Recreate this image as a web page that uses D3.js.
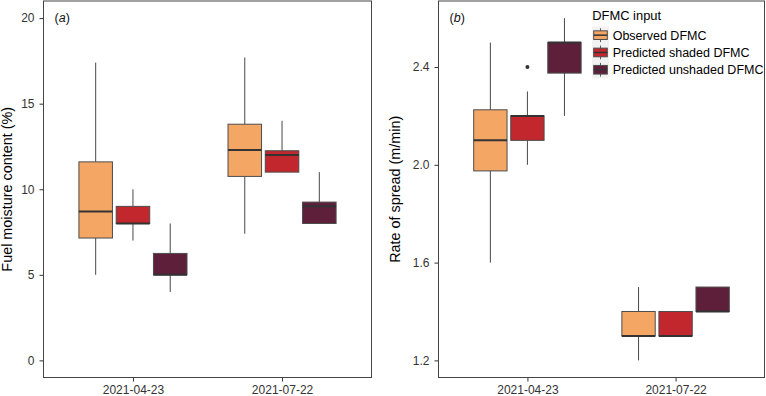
<!DOCTYPE html>
<html><head><meta charset="utf-8">
<script src="https://cdn.jsdelivr.net/npm/d3@7"></script>
<style>
html,body{margin:0;padding:0;background:#fff;}
svg{display:block;font-family:"Liberation Sans",Arial,Helvetica,sans-serif;}
</style></head>
<body><svg id="chart" width="766" height="396"></svg>
<script>
// ---------- data ----------
const dates = ["2021-04-23", "2021-07-22"];
const groups = ["Observed DFMC", "Predicted shaded DFMC", "Predicted unshaded DFMC"];
// box stats: [min, q1, median, q3, max], one entry per date
const fmcObserved  = [[5.0, 7.15, 8.7, 11.6, 17.4], [7.4, 10.75, 12.3, 13.8, 17.7]];
const fmcShaded    = [[7.0, 8.0, 8.0, 9.0, 10.0],   [11.0, 11.0, 12.0, 12.25, 14.0]];
const fmcUnshaded  = [[4.0, 5.0, 5.0, 6.25, 8.0],   [8.0, 8.0, 9.0, 9.25, 11.0]];
const rosObserved  = [[1.6, 1.975, 2.1, 2.225, 2.5], [1.2, 1.3, 1.3, 1.4, 1.5]];
const rosShaded    = [[2.0, 2.1, 2.2, 2.2, 2.3],     [1.3, 1.3, 1.3, 1.4, 1.4]];
const rosUnshaded  = [[2.2, 2.375, 2.5, 2.5, 2.6],   [1.4, 1.4, 1.4, 1.5, 1.5]];
const rosOutliers  = [{date: 0, group: 1, value: 2.4}];
const fmcTicks = [0, 5, 10, 15, 20];
const rosTicks = [1.2, 1.6, 2.0, 2.4];

const fillColors = ["#F4A664", "#C1272D", "#5E1F3A"];

const svg = d3.select("#chart");

function panel(opts) {
  const {x0, x1, y0, y1, yDomain, ticks, fmt, stats, outliers, title, label, titleX} = opts;
  const g = svg.append("g");
  const xs = d3.scaleLinear().domain([0.4, 2.6]).range([x0, x1]);
  const ys = d3.scaleLinear().domain(yDomain).range([y1, y0]);

  // y axis
  const ya = g.append("g").attr("transform", `translate(${x0},0)`)
    .call(d3.axisLeft(ys).tickValues(ticks).tickFormat(fmt).tickSize(4).tickPadding(5));
  ya.select(".domain").remove();
  ya.selectAll("line").attr("stroke", "#333");
  ya.selectAll("text").attr("fill", "#333").style("font-size", "12px");

  // x axis
  const xa = g.append("g").attr("transform", `translate(0,${y1})`)
    .call(d3.axisBottom(xs).tickValues([1, 2]).tickFormat((d) => dates[d - 1]).tickSize(4).tickPadding(3.5));
  xa.select(".domain").remove();
  xa.selectAll("line").attr("stroke", "#333");
  xa.selectAll("text").attr("fill", "#333").style("font-size", "12px");

  // boxes
  const half = 0.1125;
  stats.forEach((series, gi) => {
    series.forEach((s, di) => {
      const c = di + 1 + (gi - 1) * 0.25;
      const xl = xs(c - half), xr = xs(c + half), xc = xs(c);
      const [mn, q1, md, q3, mx] = s;
      if (mx > q3) g.append("line").attr("x1", xc).attr("x2", xc).attr("y1", ys(mx)).attr("y2", ys(q3))
        .attr("stroke", "#333").attr("stroke-width", 0.9);
      if (mn < q1) g.append("line").attr("x1", xc).attr("x2", xc).attr("y1", ys(q1)).attr("y2", ys(mn))
        .attr("stroke", "#333").attr("stroke-width", 0.9);
      g.append("rect").attr("x", xl).attr("y", ys(q3)).attr("width", xr - xl).attr("height", ys(q1) - ys(q3))
        .attr("fill", fillColors[gi]).attr("stroke", "#4d4d4d").attr("stroke-width", 1);
      g.append("line").attr("x1", xl).attr("x2", xr).attr("y1", ys(md)).attr("y2", ys(md))
        .attr("stroke", "#333").attr("stroke-width", 2);
    });
  });
  (outliers || []).forEach((o) => {
    const c = o.date + 1 + (o.group - 1) * 0.25;
    g.append("circle").attr("cx", xs(c)).attr("cy", ys(o.value)).attr("r", 2).attr("fill", "#333");
  });

  // border
  g.append("rect").attr("x", x0).attr("y", y0).attr("width", x1 - x0).attr("height", y1 - y0)
    .attr("fill", "none").attr("stroke", "#444").attr("stroke-width", 1);

  // y title
  g.append("text").attr("transform", `translate(${titleX},${(y0 + y1) / 2}) rotate(-90)`)
    .attr("text-anchor", "middle").style("font-size", "14.4px").attr("fill", "#000").text(title);

  // panel label
  const t = g.append("text").attr("x", x0 + 11).attr("y", 22).style("font-size", "12.5px").attr("fill", "#111");
  t.append("tspan").text("(");
  t.append("tspan").style("font-style", "italic").text(label);
  t.append("tspan").text(")");
}

panel({x0: 43.5, x1: 371.5, y0: 1, y1: 377.5, yDomain: [-1, 21], ticks: fmcTicks, fmt: d3.format("d"),
  stats: [fmcObserved, fmcShaded, fmcUnshaded], title: "Fuel moisture content (%)", label: "a", titleX: 11.7});
panel({x0: 438.5, x1: 764.5, y0: 1, y1: 377.5, yDomain: [1.13, 2.67], ticks: rosTicks, fmt: d3.format(".1f"),
  stats: [rosObserved, rosShaded, rosUnshaded], outliers: rosOutliers, title: "Rate of spread (m/min)", label: "b", titleX: 400});

// legend
const lg = svg.append("g");
lg.append("text").attr("x", 592.3).attr("y", 20.3).style("font-size", "12.9px").attr("fill", "#000").text("DFMC input");
const keyW = 17, keyH = 17.3, keyX = 592, keyY = 26.5;
groups.forEach((name, i) => {
  const ky = keyY + i * keyH;
  lg.append("rect").attr("x", keyX).attr("y", ky).attr("width", keyW).attr("height", keyH).attr("fill", "#f2f2f2");
  const cx = keyX + keyW / 2;
  lg.append("line").attr("x1", cx).attr("x2", cx).attr("y1", ky + keyH * 0.1).attr("y2", ky + keyH * 0.9)
    .attr("stroke", "#333").attr("stroke-width", 0.8);
  lg.append("rect").attr("x", keyX + keyW * 0.1).attr("y", ky + keyH * 0.25).attr("width", keyW * 0.8).attr("height", keyH * 0.5)
    .attr("fill", fillColors[i]).attr("stroke", "#4d4d4d").attr("stroke-width", 1);
  lg.append("line").attr("x1", keyX + keyW * 0.1).attr("x2", keyX + keyW * 0.9).attr("y1", ky + keyH / 2).attr("y2", ky + keyH / 2)
    .attr("stroke", "#333").attr("stroke-width", 1.5);
  lg.append("text").attr("x", 612.7).attr("y", ky + keyH / 2 + 4.5).style("font-size", "12.5px").attr("fill", "#000").text(name);
});
</script></body></html>
